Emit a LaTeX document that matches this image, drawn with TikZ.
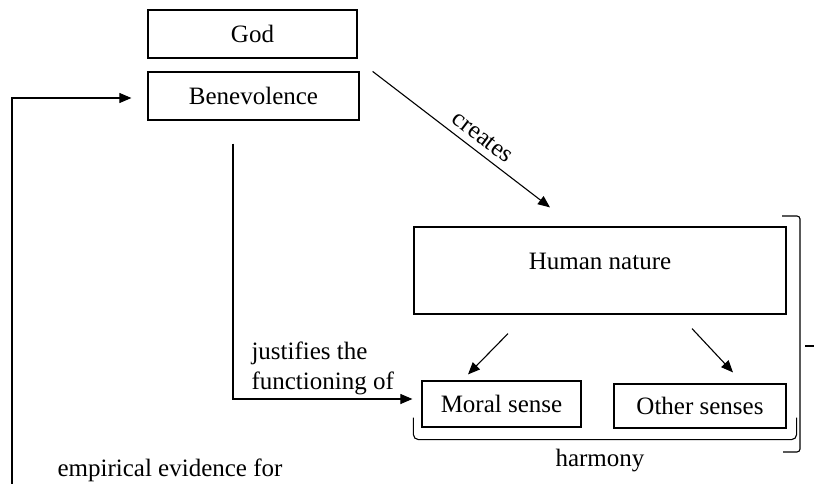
\documentclass[tikz,border=0pt]{standalone}
\usepackage{fontspec}
\setmainfont{Liberation Serif}
\usetikzlibrary{arrows.meta,positioning,calc}

\begin{document}
\begin{tikzpicture}[x=1pt,y=-1pt,
    font=\fontsize{25}{30}\selectfont,
    box/.style={draw,line width=1.2pt,rectangle,inner sep=0pt},
    arr/.style={-{Triangle[length=12pt,width=10pt]},line width=1.1pt}]
      \useasboundingbox (0,0) rectangle (814,484);
      \node[box,minimum width=209pt,minimum height=48pt] (god) at (252.5,34) {God};
      \node[box,minimum width=211pt,minimum height=48pt] (ben) at (253.5,96) {Benevolence};
      \node[box,minimum width=372pt,minimum height=87pt,text depth=18pt] (hn) at (600,270.5) {Human nature};
      \node[box,minimum width=159pt,minimum height=46pt] (moral) at (501.5,404) {Moral sense};
      \node[box,minimum width=172pt,minimum height=44pt] (other) at (700,406) {Other senses};
      \coordinate (fb) at (12,484);
      \draw[arr] (fb) |- ([xshift=-16pt,yshift=-2pt]ben.west);
      \draw[arr] ([xshift=13pt]ben.north east) -- node[rotate=-37.4,anchor=south,inner sep=7pt,pos=0.57] (cr) {creates} ([xshift=-50pt,yshift=19pt]hn.north);
      \draw[arr] ([xshift=-20.5pt,yshift=-23pt]ben.south) |- ([xshift=-9pt,yshift=5pt]moral.west);
      \node[align=left,anchor=west] (just) at (248,368) {justifies the\\functioning of};
      \draw[arr] ([xshift=-92pt,yshift=-19pt]hn.south) -- ([xshift=-33.5pt,yshift=6pt]moral.north);
      \draw[arr] ([xshift=92pt,yshift=-14pt]hn.south) -- ([xshift=33pt,yshift=11pt]other.north);
      % harmony brace under the senses
      \draw[line width=1.1pt,rounded corners=5pt] ([xshift=-8pt,yshift=10pt]moral.south west) |- ([xshift=10pt,yshift=-11pt]other.south east) -- ++(0,-22);
      \node (harm) at (600,461) {harmony};
      % bracket round human nature
      \draw[line width=1.1pt,rounded corners=3pt] (782,216) -- (800,216) -- (800,452) -- (783,452);
      \draw[line width=1.1pt] (805,346) -- (814,346);
      \node (emp) at (170,470) {empirical evidence for};
    \end{tikzpicture}
\end{document}
